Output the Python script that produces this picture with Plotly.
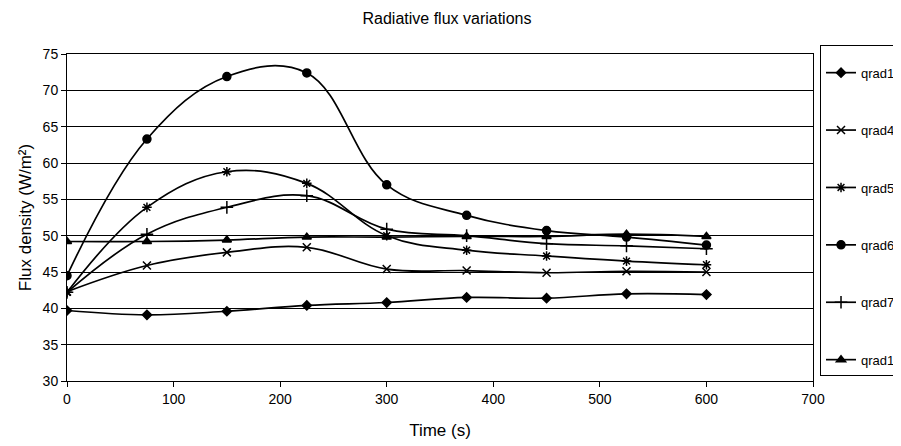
import plotly.graph_objects as go

time_s = [0, 75, 150, 225, 300, 375, 450, 525, 600]
qrad1 = [39.7, 39.1, 39.6, 40.4, 40.8, 41.5, 41.4, 42.0, 41.9]
qrad4 = [42.3, 45.9, 47.7, 48.4, 45.4, 45.2, 44.9, 45.1, 45.0]
qrad5 = [42.2, 53.9, 58.8, 57.2, 50.0, 48.0, 47.2, 46.5, 46.0]
qrad6 = [44.5, 63.3, 71.9, 72.4, 57.0, 52.8, 50.7, 49.8, 48.7]
qrad7 = [42.2, 50.2, 53.9, 55.5, 50.9, 50.0, 48.9, 48.6, 48.2]
qrad12 = [49.2, 49.2, 49.4, 49.8, 49.8, 49.9, 49.9, 50.2, 49.9]

series = [
    ("qrad1", qrad1, "diamond", 7),
    ("qrad4", qrad4, "x-thin-open", 8),
    ("qrad5", qrad5, "asterisk-open", 8),
    ("qrad6", qrad6, "circle", 8),
    ("qrad7", qrad7, "cross-thin-open", 9),
    ("qrad12", qrad12, "triangle-up", 8),
]

fig = go.Figure()
for name, vals, sym, size in series:
    fig.add_trace(go.Scatter(
        x=time_s, y=vals, name=name, legendgroup=name,
        mode="lines+markers",
        line=dict(color="black", width=1.7, shape="spline", smoothing=1.1),
        marker=dict(symbol=sym, size=size, color="black",
                    line=dict(color="black", width=1.5)),
    ))

# page body has an 8px margin, so the figure is 8px smaller and all offsets shifted
fig.update_layout(
    width=893, height=438,
    paper_bgcolor="white", plot_bgcolor="white",
    font=dict(family="Liberation Sans, Arial, sans-serif", color="black", size=14),
    title=dict(text="Radiative flux variations", x=0.4916, xanchor="center",
               y=0.977, yanchor="middle", font=dict(size=16)),
    margin=dict(l=59, r=88, t=46, b=65, autoexpand=False),
    showlegend=True,
    legend=dict(x=1.0094, xanchor="left", y=1.0275, yanchor="top",
                bordercolor="black", borderwidth=1, bgcolor="white",
                tracegroupgap=37.5, font=dict(size=13), maxheight=420,
                title=dict(text=" ", font=dict(size=9))),
    xaxis=dict(range=[0, 700], dtick=100, tick0=0, showgrid=False,
               showline=True, linecolor="black", linewidth=1, mirror=True,
               ticks="outside", ticklen=5, tickcolor="black",
               title=dict(text="Time (s)", font=dict(size=17), standoff=18),
               zeroline=False, tickfont=dict(size=14)),
    yaxis=dict(range=[30, 75], dtick=5, tick0=30, showgrid=True,
               gridcolor="black", gridwidth=1,
               showline=True, linecolor="black", linewidth=1, mirror=True,
               ticks="outside", ticklen=5, tickcolor="black",
               title=dict(text="Flux density (W/m²)", font=dict(size=17, color="black"),
                          standoff=6),
               zeroline=False, tickfont=dict(size=14)),
)

fig.write_html("out.html")
